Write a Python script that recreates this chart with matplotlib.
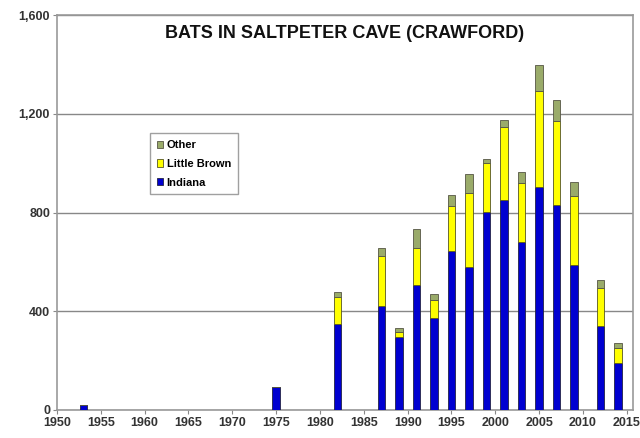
import matplotlib
matplotlib.use("Agg")
import matplotlib.pyplot as plt
import numpy as np

plt.rcParams['font.family'] = ['Liberation Sans', 'DejaVu Sans']

# survey years and bat counts per species
years = [1953, 1975, 1982, 1987, 1989, 1991, 1993, 1995, 1997, 1999,
         2001, 2003, 2005, 2007, 2009, 2012, 2014]
indiana = [20, 95, 348, 422, 295, 506, 374, 646, 580, 803,
           850, 683, 904, 830, 587, 341, 191]
little_brown = [0, 0, 109, 202, 21, 152, 72, 180, 300, 197,
                298, 239, 391, 343, 281, 154, 61]
other = [0, 0, 22, 33, 15, 75, 24, 46, 76, 17,
         29, 41, 102, 82, 58, 30, 18]

xticks = list(range(1950, 2016, 5))
yticks = [0, 400, 800, 1200, 1600]
ytick_labels = ["0", "400", "800", "1,200", "1,600"]

fig = plt.figure(figsize=(6.4, 4.38), dpi=100)
ax = fig.add_axes([0.089, 0.064, 0.900, 0.901])

largeur = 0.85
bas2 = np.array(indiana)
bas3 = bas2 + np.array(little_brown)

ax.bar(years, indiana, largeur, color="#0000d0", edgecolor="#222244", linewidth=0.6,
       label="Indiana", zorder=3)
ax.bar(years, little_brown, largeur, bottom=bas2, color="#ffff00", edgecolor="#555522",
       linewidth=0.6, label="Little Brown", zorder=3)
ax.bar(years, other, largeur, bottom=bas3, color="#9aab6a", edgecolor="#555544",
       linewidth=0.6, label="Other", zorder=3)

ax.set_xlim(1950, 2015.7)
ax.set_ylim(0, 1600)
ax.set_xticks(xticks)
ax.set_xticklabels([str(a) for a in xticks], fontsize=9, fontweight="bold", color="#333333")
ax.set_yticks(yticks)
ax.set_yticklabels(ytick_labels, fontsize=9, fontweight="bold", color="#333333")
ax.tick_params(axis="both", length=3, color="#888888", pad=2)

ax.grid(axis="y", color="#888888", linewidth=1, zorder=0)
for s in ax.spines.values():
    s.set_color("#999999")
    s.set_linewidth(1.2)

ax.text(0.5, 0.955, "BATS IN SALTPETER CAVE (CRAWFORD)", transform=ax.transAxes,
        ha="center", va="center", fontsize=13, fontweight="bold", color="#111111")

h, l = ax.get_legend_handles_labels()
leg = ax.legend(h[::-1], l[::-1], loc="upper left", bbox_to_anchor=(0.152, 0.715),
                prop={"size": 8, "weight": "bold"}, frameon=True, fancybox=False,
                edgecolor="#888888", handlelength=0.6, handleheight=0.6,
                handletextpad=0.3, labelspacing=0.8, borderpad=0.6)
leg.get_frame().set_linewidth(1)

plt.savefig("out.png", dpi=100)
